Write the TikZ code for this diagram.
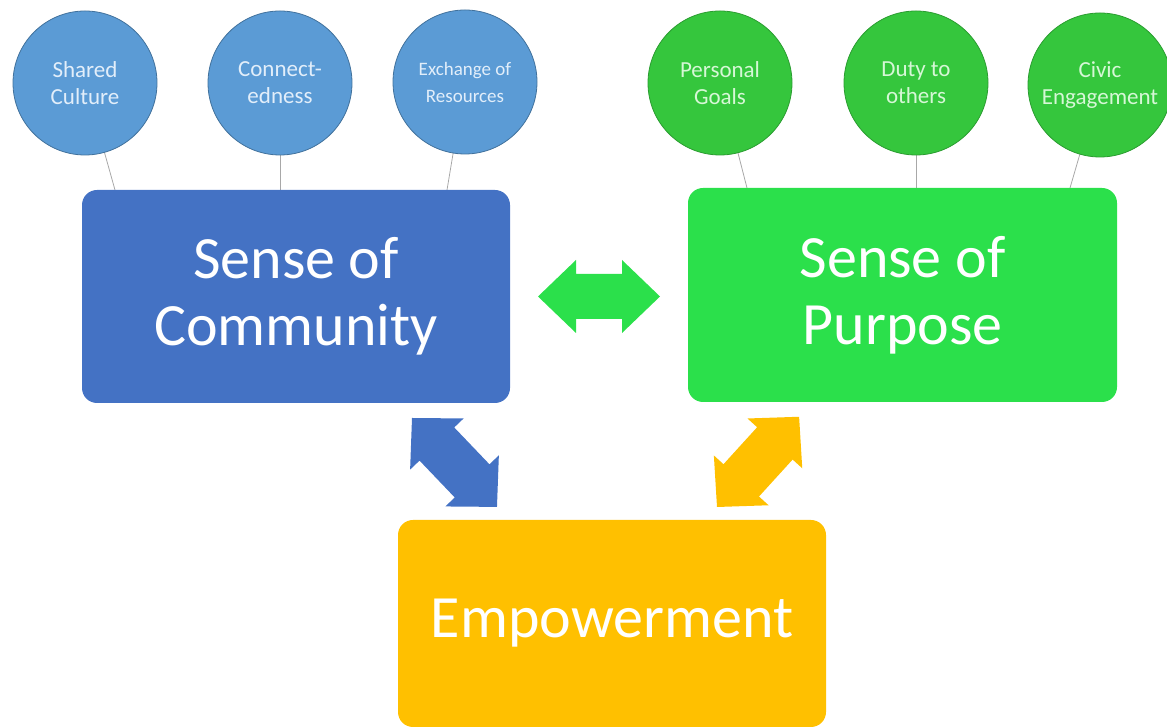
\documentclass[tikz,border=0pt]{standalone}
\usepackage{fontspec}
\setmainfont{Carlito}
\usetikzlibrary{backgrounds}
\definecolor{bluebox}{HTML}{4472C4}
\definecolor{bluecirc}{HTML}{5B9BD5}
\definecolor{bluecircline}{HTML}{41719C}
\definecolor{bluetext}{HTML}{E2EEFA}
\definecolor{greenbox}{HTML}{2BE04B}
\definecolor{greencirc}{HTML}{35C63D}
\definecolor{greencircline}{HTML}{2A9C30}
\definecolor{greentext}{HTML}{D6F7D6}
\definecolor{yellowbox}{HTML}{FFC000}
\definecolor{connline}{HTML}{A8A8A8}
\tikzset{
  bigbox/.style={rounded corners=15pt, minimum width=428pt, minimum height=213pt,
    text=white, align=center, inner sep=0pt, font=\fontsize{60}{67}\selectfont},
  bluecircle/.style={circle, fill=bluecirc, draw=bluecircline, line width=0.8pt,
    minimum size=144pt, inner sep=0pt, text=bluetext, align=center,
    font=\fontsize{23}{27}\selectfont},
  greencircle/.style={circle, fill=greencirc, draw=greencircline, line width=0.8pt,
    minimum size=144pt, inner sep=0pt, text=greentext, align=center,
    font=\fontsize{23}{27}\selectfont},
  connector/.style={draw=connline, line width=0.8pt},
  pics/dblarrow/.style args={#1/#2/#3/#4}{code={
    \fill (0,0) -- (#2,#3) -- (#2,#4) -- ({#1-#2},#4) -- ({#1-#2},#3) -- (#1,0)
      -- ({#1-#2},-#3) -- ({#1-#2},-#4) -- (#2,-#4) -- (#2,-#3) -- cycle;
  }}
}
\begin{document}
\begin{tikzpicture}[x=1pt,y=1pt]
\useasboundingbox (0,0) rectangle (1167,727);

% main boxes
\node[bigbox, fill=bluebox] (comm) at (296,430.5) {Sense of\\Community};
\node[bigbox, fill=greenbox, minimum width=429pt, minimum height=214pt] (purp) at (902.5,432) {Sense of\\Purpose};
\node[bigbox, fill=yellowbox, minimum height=207pt] (emp) at (612,103.5) {Empowerment};

% circles
\node[bluecircle] (c1) at (85,644) {Shared\\Culture};
\node[bluecircle] (c2) at (280,644) {Connect-\\edness};
\node[bluecircle, font=\fontsize{19}{27}\selectfont] (c3) at (465,645) {Exchange of\\Resources};
\node[greencircle] (g1) at (720,644) {Personal\\Goals};
\node[greencircle] (g2) at (916,644) {Duty to\\others};
\node[greencircle] (g3) at (1100,642) {Civic\\Engagement};

% connector end points on box tops
\coordinate (e1) at (115,537);
\coordinate (e2) at (280,537);
\coordinate (e3) at (447,537);
\coordinate (f1) at (747,539);
\coordinate (f2) at (916,539);
\coordinate (f3) at (1070,539);

\begin{scope}[on background layer]
\draw[connector] (c1.center) -- (e1);
\draw[connector] (c2.center) -- (e2);
\draw[connector] (c3.center) -- (e3);
\draw[connector] (g1.center) -- (f1);
\draw[connector] (g2.center) -- (f2);
\draw[connector] (g3.center) -- (f3);
\end{scope}

% block arrows
\coordinate (ga) at (538,430.5);
\coordinate (ba) at (412,309);
\coordinate (ya) at (717,220);
\pic[fill=greenbox] at (ga) {dblarrow=122/38/36.5/22.5};
\pic[fill=bluebox, rotate=-46.3] at (ba) {dblarrow=123/36/37/24};
\pic[fill=yellowbox, rotate=47.7] at (ya) {dblarrow=122/36/37/24};
\end{tikzpicture}
\end{document}
